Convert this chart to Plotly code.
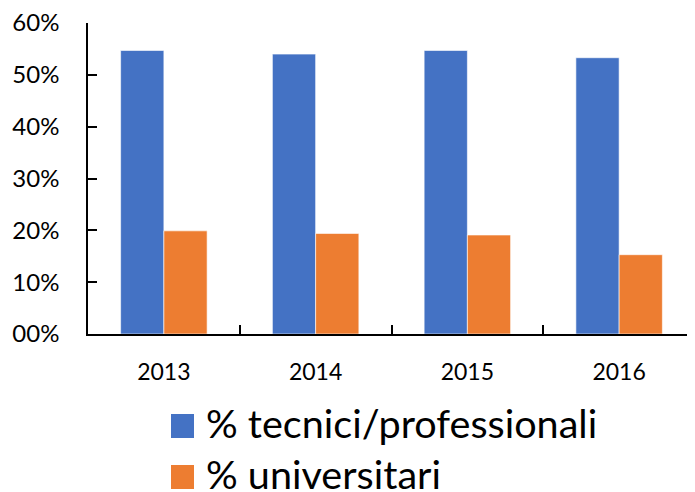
import plotly.graph_objects as go

# data
years = ["2013", "2014", "2015", "2016"]
tecnici = [54.7, 54.0, 54.7, 53.3]
universitari = [19.9, 19.4, 19.1, 15.3]
series_names = ["% tecnici/professionali", "% universitari"]
series_colors = ["#4472C4", "#ED7D31"]
y_ticks = [0, 10, 20, 30, 40, 50, 60]
y_ticktext = ["00%", "10%", "20%", "30%", "40%", "50%", "60%"]

FONT = "Lato"
# the page body has an 8px margin, so the figure is drawn 8px in from the corner
OFF = 8
W, H = 695 - OFF, 492 - OFF
PLOT_TOP, PLOT_BOTTOM, PLOT_LEFT, PLOT_W = 23 - OFF, 334 - OFF, 88 - OFF, 607
PLOT_H = PLOT_BOTTOM - PLOT_TOP

fig = go.Figure()
for name, vals, color in zip(series_names, [tecnici, universitari], series_colors):
    fig.add_trace(
        go.Bar(
            x=years,
            y=vals,
            name=name,
            marker_color=color,
            marker_line=dict(color="rgba(255,255,255,0.6)", width=1),
            showlegend=False,
        )
    )

fig.update_layout(
    width=W,
    height=H,
    margin=dict(l=PLOT_LEFT, r=0, t=PLOT_TOP, b=H - PLOT_BOTTOM),
    paper_bgcolor="white",
    plot_bgcolor="white",
    barmode="group",
    bargap=0.43,
    bargroupgap=0,
    font=dict(family=FONT, color="black", size=24),
)

fig.update_xaxes(
    range=[-0.5, 3.5],
    automargin=False,
    showline=True,
    linecolor="black",
    linewidth=1.5,
    ticks="inside",
    tickson="boundaries",
    ticklen=9,
    tickcolor="black",
    tickwidth=1.5,
    ticklabelstandoff=17,
    tickfont=dict(size=23),
)
fig.update_yaxes(
    range=[0, 60],
    automargin=False,
    tickvals=y_ticks,
    ticktext=y_ticktext,
    ticklabeloverflow="allow",
    showline=True,
    linecolor="black",
    linewidth=1.5,
    ticks="inside",
    ticklen=9,
    tickcolor="black",
    tickwidth=1.5,
    showgrid=False,
    zeroline=False,
    ticklabelstandoff=22,
    tickfont=dict(size=24),
)


def px_x(x):
    # page pixel -> paper fraction
    return (x - OFF - PLOT_LEFT) / PLOT_W


def px_y(y):
    return (PLOT_BOTTOM - (y - OFF)) / PLOT_H


# legend drawn by hand so the swatches match the big text
rows_y = [426, 477]
for name, color, yc in zip(series_names, series_colors, rows_y):
    fig.add_shape(
        type="rect",
        xref="paper",
        yref="paper",
        x0=px_x(171),
        x1=px_x(194),
        y0=px_y(yc + 12),
        y1=px_y(yc - 12),
        fillcolor=color,
        line_width=0,
    )
    fig.add_annotation(
        xref="paper",
        yref="paper",
        x=px_x(204),
        y=px_y(yc - 4),
        text=name,
        showarrow=False,
        xanchor="left",
        yanchor="middle",
        font=dict(size=39.6, family=FONT, color="black"),
    )

fig.write_html("out.html")
